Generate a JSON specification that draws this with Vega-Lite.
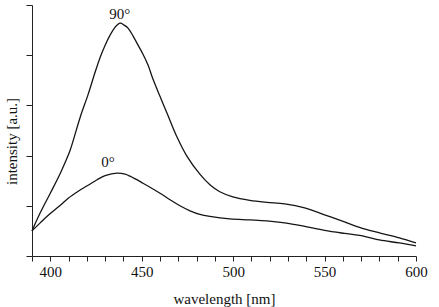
{
  "$schema": "https://vega.github.io/schema/vega-lite/v6.json",
  "width": 384,
  "height": 251,
  "autosize": "none",
  "padding": {"left": 32, "top": 5, "right": 23, "bottom": 51},
  "background": "white",
  "config": {
    "view": {"stroke": null},
    "font": "Liberation Serif",
    "axis": {
      "grid": false,
      "domainColor": "#222",
      "tickColor": "#222",
      "labelFont": "Liberation Serif",
      "titleFont": "Liberation Serif",
      "labelColor": "#111",
      "titleColor": "#111",
      "labelFontSize": 15,
      "titleFontSize": 15,
      "titleFontWeight": "normal"
    }
  },
  "datasets": {
    "spectra": [
      {"angle": "90", "wavelength": 390.0, "intensity": 0.50},
      {"angle": "90", "wavelength": 394.5, "intensity": 0.86},
      {"angle": "90", "wavelength": 400.0, "intensity": 1.25},
      {"angle": "90", "wavelength": 405.5, "intensity": 1.65},
      {"angle": "90", "wavelength": 408.7, "intensity": 1.91},
      {"angle": "90", "wavelength": 410.9, "intensity": 2.11},
      {"angle": "90", "wavelength": 416.4, "intensity": 2.77},
      {"angle": "90", "wavelength": 420.7, "intensity": 3.22},
      {"angle": "90", "wavelength": 424.5, "intensity": 3.66},
      {"angle": "90", "wavelength": 427.3, "intensity": 3.96},
      {"angle": "90", "wavelength": 430.0, "intensity": 4.20},
      {"angle": "90", "wavelength": 432.7, "intensity": 4.40},
      {"angle": "90", "wavelength": 435.5, "intensity": 4.56},
      {"angle": "90", "wavelength": 438.2, "intensity": 4.64},
      {"angle": "90", "wavelength": 440.4, "intensity": 4.60},
      {"angle": "90", "wavelength": 442.5, "intensity": 4.54},
      {"angle": "90", "wavelength": 445.3, "intensity": 4.38},
      {"angle": "90", "wavelength": 448.0, "intensity": 4.20},
      {"angle": "90", "wavelength": 450.7, "intensity": 4.02},
      {"angle": "90", "wavelength": 453.5, "intensity": 3.80},
      {"angle": "90", "wavelength": 456.2, "intensity": 3.52},
      {"angle": "90", "wavelength": 460.0, "intensity": 3.18},
      {"angle": "90", "wavelength": 463.8, "intensity": 2.85},
      {"angle": "90", "wavelength": 469.3, "intensity": 2.37},
      {"angle": "90", "wavelength": 474.7, "intensity": 1.99},
      {"angle": "90", "wavelength": 481.8, "intensity": 1.63},
      {"angle": "90", "wavelength": 487.3, "intensity": 1.42},
      {"angle": "90", "wavelength": 492.7, "intensity": 1.28},
      {"angle": "90", "wavelength": 499.8, "intensity": 1.18},
      {"angle": "90", "wavelength": 509.1, "intensity": 1.11},
      {"angle": "90", "wavelength": 518.4, "intensity": 1.07},
      {"angle": "90", "wavelength": 528.2, "intensity": 1.04},
      {"angle": "90", "wavelength": 539.1, "intensity": 0.96},
      {"angle": "90", "wavelength": 550.0, "intensity": 0.82},
      {"angle": "90", "wavelength": 560.9, "intensity": 0.68},
      {"angle": "90", "wavelength": 569.1, "intensity": 0.57},
      {"angle": "90", "wavelength": 580.0, "intensity": 0.46},
      {"angle": "90", "wavelength": 590.9, "intensity": 0.36},
      {"angle": "90", "wavelength": 600.0, "intensity": 0.26},
      {"angle": "0", "wavelength": 390.0, "intensity": 0.50},
      {"angle": "0", "wavelength": 394.5, "intensity": 0.66},
      {"angle": "0", "wavelength": 398.9, "intensity": 0.81},
      {"angle": "0", "wavelength": 405.5, "intensity": 1.01},
      {"angle": "0", "wavelength": 409.8, "intensity": 1.15},
      {"angle": "0", "wavelength": 415.3, "intensity": 1.29},
      {"angle": "0", "wavelength": 420.7, "intensity": 1.41},
      {"angle": "0", "wavelength": 425.6, "intensity": 1.52},
      {"angle": "0", "wavelength": 430.0, "intensity": 1.60},
      {"angle": "0", "wavelength": 436.5, "intensity": 1.65},
      {"angle": "0", "wavelength": 440.9, "intensity": 1.63},
      {"angle": "0", "wavelength": 443.6, "intensity": 1.59},
      {"angle": "0", "wavelength": 450.7, "intensity": 1.45},
      {"angle": "0", "wavelength": 455.0, "intensity": 1.36},
      {"angle": "0", "wavelength": 460.0, "intensity": 1.25},
      {"angle": "0", "wavelength": 465.5, "intensity": 1.12},
      {"angle": "0", "wavelength": 470.9, "intensity": 1.00},
      {"angle": "0", "wavelength": 476.4, "intensity": 0.90},
      {"angle": "0", "wavelength": 481.8, "intensity": 0.83},
      {"angle": "0", "wavelength": 487.3, "intensity": 0.79},
      {"angle": "0", "wavelength": 498.2, "intensity": 0.74},
      {"angle": "0", "wavelength": 509.1, "intensity": 0.72},
      {"angle": "0", "wavelength": 518.4, "intensity": 0.70},
      {"angle": "0", "wavelength": 528.2, "intensity": 0.66},
      {"angle": "0", "wavelength": 539.1, "intensity": 0.59},
      {"angle": "0", "wavelength": 550.0, "intensity": 0.51},
      {"angle": "0", "wavelength": 560.9, "intensity": 0.45},
      {"angle": "0", "wavelength": 569.1, "intensity": 0.41},
      {"angle": "0", "wavelength": 580.0, "intensity": 0.32},
      {"angle": "0", "wavelength": 590.9, "intensity": 0.26},
      {"angle": "0", "wavelength": 600.0, "intensity": 0.20}
    ],
    "labels": [
      {"text": "90°", "wavelength": 438.0, "intensity": 4.83},
      {"text": "0°", "wavelength": 431.6, "intensity": 1.87}
    ]
  },
  "encoding": {
    "x": {
      "field": "wavelength",
      "type": "quantitative",
      "scale": {"domain": [390, 600], "nice": false, "zero": false},
      "axis": {
        "title": "wavelength [nm]",
        "values": [390, 400, 410, 420, 430, 440, 450, 460, 470, 480, 490, 500, 510, 520, 530, 540, 550, 560, 570, 580, 590, 600],
        "labelExpr": "(datum.value == 400 || datum.value == 450 || datum.value == 500 || datum.value == 550 || datum.value == 600) ? datum.label : ''",
        "labelOverlap": false,
        "labelBound": false,
        "tickSize": 5,
        "labelPadding": 3,
        "titlePadding": 12,
        "labelFlush": false
      }
    },
    "y": {
      "field": "intensity",
      "type": "quantitative",
      "scale": {"domain": [0, 5], "nice": false},
      "axis": {
        "title": "intensity [a.u.]",
        "values": [0, 1, 2, 3, 4, 5],
        "labels": false,
        "tickSize": 6,
        "titlePadding": 6,
        "titleY": 136
      }
    }
  },
  "layer": [
    {
      "data": {"name": "spectra"},
      "mark": {"type": "line", "interpolate": "catmull-rom", "color": "#151515", "strokeWidth": 1.3},
      "encoding": {
        "detail": {"field": "angle", "type": "nominal"}
      }
    },
    {
      "data": {"name": "labels"},
      "mark": {"type": "text", "font": "Liberation Serif", "fontSize": 15, "color": "#111", "baseline": "middle", "align": "center"},
      "encoding": {
        "text": {"field": "text", "type": "nominal"}
      }
    }
  ]
}
